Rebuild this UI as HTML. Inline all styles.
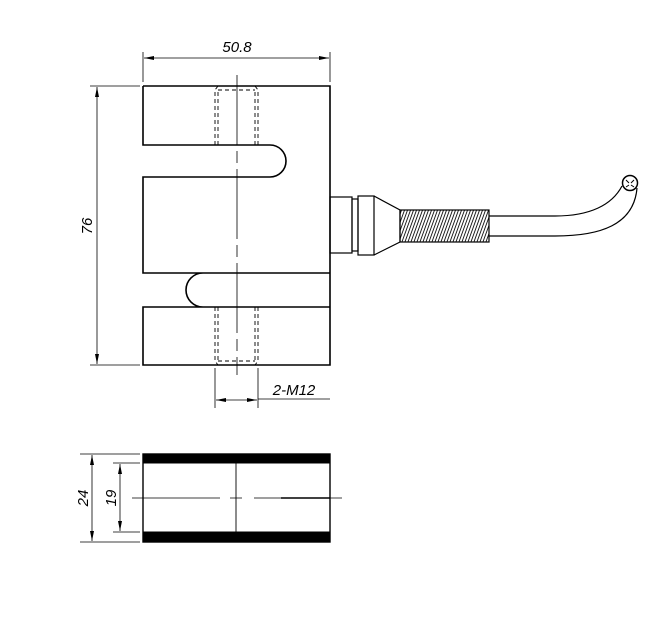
<!DOCTYPE html>
<html><head><style>body{margin:0;background:#fff}svg{display:block}</style></head><body>
<svg width="655" height="621" viewBox="0 0 655 621" xmlns="http://www.w3.org/2000/svg" font-family="Liberation Sans, sans-serif">
<defs>
<marker id="a" viewBox="0 0 10 4" refX="10" refY="2" markerWidth="10" markerHeight="4" orient="auto-start-reverse" markerUnits="userSpaceOnUse"><path d="M0,0 L10,2 L0,4z" fill="#000"/></marker>
<pattern id="th" width="3" height="32" patternUnits="userSpaceOnUse" patternTransform="skewX(-20)"><line x1="1" y1="0" x2="1" y2="32" stroke="#000" stroke-width="0.9"/></pattern>
</defs>
<g fill="none" stroke="#000">
<!-- body outline -->
<path d="M143,86 H330 V365 H143 V307 H330 M143,365 V307 M330,307 V273 H203 A17,17 0 0 0 203,307 M143,86 V145 H270 A16,16 0 0 1 270,177 H143 V273 H330 M330,86 V273" stroke-width="1.6"/>
<!-- dashed holes -->
<g stroke-width="0.9" stroke-dasharray="4,3">
<path d="M215,145 V90 L218,86 M258,145 V90 L255,86 M218,90 H255 M218,145 V90 M255,145 V90"/>
<path d="M215,307 V361 L218,365 M258,307 V361 L255,365 M218,361 H255 M218,307 V361 M255,307 V361"/>
</g>
<!-- center line -->
<path d="M237,75 V375" stroke-width="0.8" stroke-dasharray="70,6,12,6"/>
<!-- dims -->
<g stroke-width="0.8">
<path d="M143,52 V82 M330,52 V82"/>
<path d="M144,58 H329" marker-start="url(#a)" marker-end="url(#a)"/>
<path d="M90,86 H140 M90,365 H140"/>
<path d="M97,87 V364" marker-start="url(#a)" marker-end="url(#a)"/>
<path d="M215,368 V408 M258,368 V408"/>
<path d="M216,400 H257" marker-start="url(#a)" marker-end="url(#a)"/>
<path d="M258,399 H330"/>
</g>
<!-- connector -->
<g stroke-width="1.2">
<rect x="330" y="197" width="22" height="56"/>
<rect x="352" y="199" width="6" height="52"/>
<rect x="358" y="196" width="16" height="59"/>
<path d="M374,196 L400,210 V242 L374,255"/>
<rect x="400" y="210" width="89" height="32" fill="url(#th)"/>
<path d="M489,216 H555 C590,216 612,205 622,186 M489,236 H555 C600,236 634,225 637,188"/>
<circle cx="630" cy="183" r="7.5" stroke-width="1.5"/>
<path d="M626,180 l3,3 M634,180 l-3,3 M626,187 l3,-2 M634,187 l-3,-2" stroke-width="1"/>
</g>
<!-- bottom view -->
<rect x="143" y="454" width="187" height="88" stroke-width="1.4"/>
<rect x="143" y="454" width="187" height="9" fill="#000"/>
<rect x="143" y="532" width="187" height="10" fill="#000"/>
<path d="M236,454 V542" stroke-width="0.9"/>
<path d="M132,498 H220 M230,498 H242 M254,498 H342" stroke-width="0.8"/>
<path d="M281,498 H330" stroke-width="1.4"/>
<g stroke-width="0.8">
<path d="M80,454 H140 M80,542 H140 M113,463 H140 M113,532 H140"/>
<path d="M92,455 V541" marker-start="url(#a)" marker-end="url(#a)"/>
<path d="M120,464 V531" marker-start="url(#a)" marker-end="url(#a)"/>
</g>
</g>
<g font-size="15" font-style="italic" fill="#000">
<text x="237" y="52" text-anchor="middle">50.8</text>
<text x="294" y="395" text-anchor="middle">2-M12</text>
<text transform="translate(92,226) rotate(-90)" text-anchor="middle">76</text>
<text transform="translate(88,498) rotate(-90)" text-anchor="middle">24</text>
<text transform="translate(116,498) rotate(-90)" text-anchor="middle">19</text>
</g>
</svg>
</body></html>
